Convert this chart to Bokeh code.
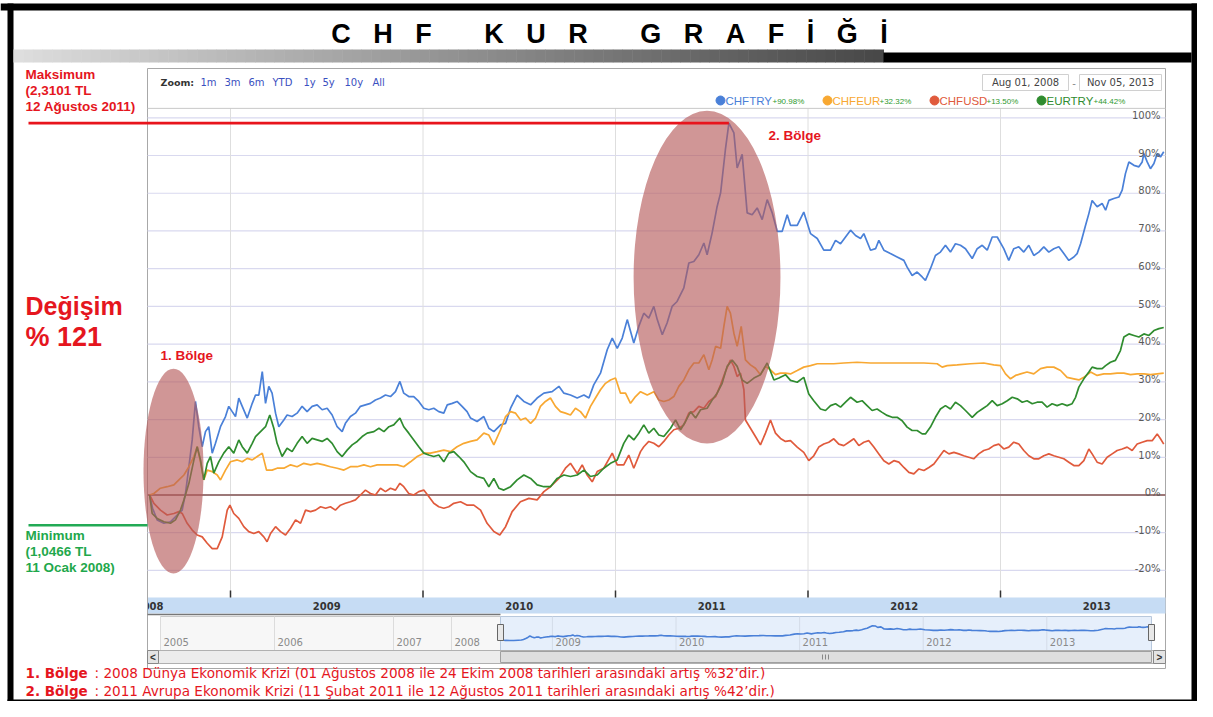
from bokeh.plotting import figure
from bokeh.models import Range1d, Label
from bokeh.core.properties import value
from bokeh.embed import file_html
from bokeh.resources import INLINE

# ---------------- data (decimal year, % change since 01 Aug 2008) ----------------
chftry = [
    (2008.580, 0.0), (2008.595, -3.5), (2008.619, -6.6), (2008.654, -7.5), (2008.688, -7.1),
    (2008.723, -5.3), (2008.749, -4.0), (2008.766, 0.4), (2008.784, 7.5), (2008.801, 14.6),
    (2008.818, 24.8), (2008.835, 18.1), (2008.853, 12.8), (2008.870, 16.8), (2008.887, 18.1),
    (2008.905, 11.1), (2008.922, 13.7), (2008.948, 18.1), (2008.974, 20.8), (2008.991, 23.5),
    (2009.009, 22.1), (2009.026, 20.8), (2009.043, 25.7), (2009.061, 23.5), (2009.087, 20.4),
    (2009.113, 24.3), (2009.130, 26.5), (2009.147, 26.5), (2009.165, 32.7), (2009.182, 24.3),
    (2009.199, 28.8), (2009.216, 27.0), (2009.234, 21.7), (2009.251, 18.1), (2009.277, 19.9),
    (2009.294, 21.2), (2009.320, 20.8), (2009.346, 21.7), (2009.372, 23.5), (2009.398, 22.1),
    (2009.424, 23.5), (2009.450, 23.9), (2009.476, 22.6), (2009.502, 23.0), (2009.528, 21.2),
    (2009.554, 18.1), (2009.580, 16.8), (2009.597, 19.0), (2009.623, 20.8), (2009.649, 21.7),
    (2009.675, 23.5), (2009.701, 23.9), (2009.727, 24.3), (2009.753, 25.2), (2009.779, 25.7),
    (2009.805, 26.5), (2009.831, 26.1), (2009.857, 27.4), (2009.880, 30.1), (2009.900, 27.0),
    (2009.926, 26.1), (2009.952, 26.1), (2009.978, 24.8), (2010.004, 23.0), (2010.030, 22.6),
    (2010.056, 23.0), (2010.082, 22.1), (2010.108, 21.7), (2010.126, 23.9), (2010.152, 24.3),
    (2010.177, 24.8), (2010.203, 23.5), (2010.229, 22.1), (2010.247, 20.4), (2010.281, 19.5),
    (2010.316, 20.8), (2010.342, 17.7), (2010.368, 16.8), (2010.403, 18.6), (2010.429, 19.0),
    (2010.455, 23.0), (2010.489, 26.5), (2010.524, 24.8), (2010.559, 23.9), (2010.593, 25.7),
    (2010.628, 27.0), (2010.671, 27.4), (2010.706, 28.8), (2010.732, 27.0), (2010.766, 26.5),
    (2010.801, 25.7), (2010.836, 26.5), (2010.862, 25.7), (2010.887, 29.2), (2010.922, 32.3),
    (2010.957, 38.5), (2010.983, 41.6), (2011.009, 38.9), (2011.035, 41.6), (2011.061, 46.5),
    (2011.095, 40.3), (2011.121, 44.7), (2011.147, 48.2), (2011.173, 46.9), (2011.199, 50.0),
    (2011.217, 46.5), (2011.243, 42.5), (2011.268, 45.6), (2011.294, 50.0), (2011.320, 51.3),
    (2011.355, 54.9), (2011.381, 61.5), (2011.407, 61.9), (2011.433, 63.7), (2011.459, 66.8),
    (2011.476, 63.7), (2011.502, 69.5), (2011.528, 76.5), (2011.546, 80.1), (2011.571, 91.6),
    (2011.589, 98.6), (2011.615, 96.0), (2011.632, 86.7), (2011.658, 90.3), (2011.684, 74.8),
    (2011.710, 74.3), (2011.736, 76.1), (2011.762, 73.0), (2011.788, 78.3), (2011.814, 74.8),
    (2011.840, 69.9), (2011.866, 69.9), (2011.892, 74.3), (2011.909, 71.5), (2011.944, 71.5),
    (2011.978, 75.0), (2012.013, 69.3), (2012.048, 68.0), (2012.082, 64.9), (2012.117, 64.9),
    (2012.143, 67.5), (2012.169, 66.6), (2012.195, 68.4), (2012.221, 70.2), (2012.247, 68.8),
    (2012.273, 68.0), (2012.290, 69.3), (2012.325, 64.9), (2012.351, 65.3), (2012.368, 67.5),
    (2012.394, 64.9), (2012.428, 64.0), (2012.463, 63.1), (2012.498, 62.2), (2012.515, 60.4),
    (2012.541, 58.2), (2012.567, 59.1), (2012.593, 57.8), (2012.610, 56.9), (2012.636, 60.0),
    (2012.662, 63.5), (2012.688, 64.4), (2012.714, 66.2), (2012.740, 64.4), (2012.766, 66.6),
    (2012.792, 66.2), (2012.818, 65.3), (2012.853, 62.7), (2012.879, 65.3), (2012.905, 66.2),
    (2012.931, 64.9), (2012.957, 68.4), (2012.983, 68.4), (2013.017, 65.3), (2013.043, 62.2),
    (2013.069, 65.3), (2013.095, 65.8), (2013.121, 64.4), (2013.147, 66.2), (2013.173, 63.5),
    (2013.199, 64.4), (2013.225, 65.8), (2013.251, 64.4), (2013.277, 65.3), (2013.303, 65.8),
    (2013.329, 64.0), (2013.355, 62.2), (2013.381, 63.1), (2013.398, 64.0), (2013.416, 66.6),
    (2013.442, 71.5), (2013.459, 74.6), (2013.476, 78.1), (2013.502, 76.4), (2013.528, 77.3),
    (2013.546, 75.5), (2013.563, 78.1), (2013.589, 78.6), (2013.615, 79.0), (2013.632, 80.8),
    (2013.649, 85.2), (2013.667, 88.3), (2013.693, 87.4), (2013.719, 87.0), (2013.736, 88.3),
    (2013.745, 90.5), (2013.762, 88.3), (2013.779, 86.5), (2013.797, 87.9), (2013.814, 90.5),
    (2013.831, 89.6), (2013.848, 91.0),
]

eurtry = [
    (2008.580, 0.0), (2008.593, -4.9), (2008.619, -6.2), (2008.654, -7.1), (2008.688, -7.5),
    (2008.714, -6.6), (2008.740, -4.0), (2008.758, -1.3), (2008.784, 3.1), (2008.810, 9.3),
    (2008.827, 12.8), (2008.844, 9.3), (2008.861, 4.0), (2008.879, 8.4), (2008.896, 10.2),
    (2008.913, 5.8), (2008.939, 8.8), (2008.965, 11.1), (2008.991, 12.8), (2009.017, 11.1),
    (2009.043, 14.6), (2009.061, 12.8), (2009.087, 11.1), (2009.113, 13.7), (2009.130, 15.5),
    (2009.156, 16.8), (2009.182, 18.1), (2009.204, 21.2), (2009.225, 17.7), (2009.242, 13.7),
    (2009.268, 10.2), (2009.294, 12.4), (2009.320, 11.5), (2009.346, 13.7), (2009.372, 15.5),
    (2009.398, 13.7), (2009.424, 15.0), (2009.450, 14.6), (2009.476, 14.2), (2009.502, 15.0),
    (2009.528, 13.7), (2009.554, 11.5), (2009.580, 10.2), (2009.606, 11.9), (2009.632, 13.3),
    (2009.658, 14.2), (2009.684, 15.5), (2009.710, 16.4), (2009.745, 16.8), (2009.771, 17.7),
    (2009.797, 16.8), (2009.823, 18.1), (2009.848, 18.6), (2009.880, 20.4), (2009.900, 18.1),
    (2009.926, 16.4), (2009.952, 14.6), (2009.978, 12.8), (2010.004, 11.1), (2010.030, 10.6),
    (2010.056, 10.2), (2010.082, 10.6), (2010.108, 8.8), (2010.134, 11.1), (2010.160, 11.5),
    (2010.186, 10.2), (2010.212, 8.8), (2010.247, 6.2), (2010.281, 4.9), (2010.316, 4.4),
    (2010.342, 2.2), (2010.368, 4.4), (2010.394, 1.8), (2010.420, 1.3), (2010.455, 2.2),
    (2010.489, 4.0), (2010.524, 5.3), (2010.559, 4.4), (2010.593, 2.7), (2010.628, 2.2),
    (2010.662, 2.2), (2010.697, 4.4), (2010.732, 5.3), (2010.766, 4.9), (2010.801, 5.3),
    (2010.836, 6.6), (2010.870, 4.9), (2010.905, 5.3), (2010.939, 7.1), (2010.974, 8.4),
    (2011.009, 9.3), (2011.043, 13.7), (2011.069, 15.9), (2011.095, 14.6), (2011.121, 16.4),
    (2011.147, 18.6), (2011.173, 16.4), (2011.199, 17.7), (2011.225, 15.9), (2011.251, 15.5),
    (2011.286, 17.7), (2011.312, 19.9), (2011.338, 17.3), (2011.364, 19.5), (2011.390, 22.1),
    (2011.416, 20.4), (2011.442, 22.6), (2011.476, 23.0), (2011.502, 25.2), (2011.528, 27.0),
    (2011.554, 29.6), (2011.580, 34.1), (2011.606, 35.8), (2011.632, 34.1), (2011.658, 30.5),
    (2011.684, 29.6), (2011.719, 31.0), (2011.753, 31.9), (2011.788, 35.0), (2011.823, 30.5),
    (2011.849, 31.0), (2011.883, 31.9), (2011.909, 30.4), (2011.944, 29.9), (2011.978, 31.2),
    (2012.004, 26.8), (2012.030, 25.0), (2012.065, 22.8), (2012.091, 22.4), (2012.117, 23.7),
    (2012.143, 24.2), (2012.169, 23.3), (2012.195, 24.6), (2012.221, 25.9), (2012.255, 24.6),
    (2012.281, 25.0), (2012.307, 23.7), (2012.333, 22.4), (2012.359, 22.8), (2012.385, 21.9),
    (2012.411, 21.1), (2012.437, 20.6), (2012.463, 20.6), (2012.489, 19.7), (2012.515, 18.0),
    (2012.541, 17.1), (2012.567, 17.1), (2012.593, 16.2), (2012.610, 16.2), (2012.636, 18.0),
    (2012.662, 20.6), (2012.688, 22.8), (2012.714, 23.7), (2012.740, 22.8), (2012.766, 24.6),
    (2012.792, 23.7), (2012.818, 22.4), (2012.853, 20.6), (2012.879, 21.9), (2012.905, 22.8),
    (2012.931, 23.7), (2012.957, 25.0), (2012.983, 23.7), (2013.009, 24.2), (2013.035, 25.0),
    (2013.061, 25.9), (2013.087, 25.5), (2013.113, 24.6), (2013.138, 25.0), (2013.165, 24.2),
    (2013.190, 24.6), (2013.216, 24.6), (2013.242, 23.3), (2013.268, 24.2), (2013.294, 23.7),
    (2013.320, 24.2), (2013.346, 23.7), (2013.372, 24.2), (2013.390, 25.9), (2013.407, 28.6),
    (2013.433, 30.8), (2013.459, 32.6), (2013.476, 33.9), (2013.502, 33.5), (2013.528, 33.5),
    (2013.546, 34.3), (2013.571, 35.2), (2013.597, 35.7), (2013.623, 38.3), (2013.641, 41.9),
    (2013.667, 42.7), (2013.693, 42.3), (2013.719, 41.9), (2013.745, 42.7), (2013.771, 42.3),
    (2013.797, 43.6), (2013.823, 44.1), (2013.848, 44.4),
]

chfeur = [
    (2008.580, 0.0), (2008.602, 0.4), (2008.636, 1.8), (2008.671, 2.2), (2008.706, 2.7),
    (2008.732, 4.0), (2008.758, 5.3), (2008.784, 7.5), (2008.810, 10.2), (2008.827, 12.8),
    (2008.844, 8.8), (2008.861, 4.0), (2008.879, 6.6), (2008.905, 6.2), (2008.931, 5.3),
    (2008.948, 4.0), (2008.974, 6.6), (2009.000, 8.8), (2009.035, 9.3), (2009.061, 8.8),
    (2009.087, 9.7), (2009.113, 9.3), (2009.139, 10.2), (2009.165, 11.1), (2009.187, 6.6),
    (2009.216, 6.6), (2009.242, 7.1), (2009.277, 7.1), (2009.312, 8.0), (2009.346, 7.5),
    (2009.381, 8.4), (2009.416, 8.0), (2009.450, 8.4), (2009.485, 8.0), (2009.519, 7.5),
    (2009.554, 7.1), (2009.589, 6.6), (2009.623, 7.5), (2009.658, 7.5), (2009.693, 8.0),
    (2009.727, 7.5), (2009.762, 8.0), (2009.797, 8.0), (2009.831, 8.0), (2009.866, 8.0),
    (2009.900, 7.5), (2009.935, 8.8), (2009.970, 10.2), (2010.004, 11.1), (2010.039, 11.1),
    (2010.074, 11.5), (2010.108, 11.9), (2010.143, 11.5), (2010.177, 12.8), (2010.212, 13.7),
    (2010.247, 14.2), (2010.281, 14.6), (2010.316, 16.4), (2010.342, 15.9), (2010.368, 13.3),
    (2010.403, 17.3), (2010.429, 20.8), (2010.455, 22.1), (2010.481, 21.7), (2010.507, 19.9),
    (2010.533, 20.4), (2010.559, 19.0), (2010.585, 20.4), (2010.610, 23.5), (2010.636, 24.8),
    (2010.662, 25.7), (2010.688, 23.5), (2010.714, 22.1), (2010.740, 21.7), (2010.766, 21.2),
    (2010.792, 23.0), (2010.818, 22.1), (2010.844, 20.4), (2010.870, 23.5), (2010.896, 25.7),
    (2010.922, 27.9), (2010.948, 29.6), (2010.974, 30.5), (2011.000, 31.0), (2011.026, 27.0),
    (2011.052, 27.0), (2011.078, 24.3), (2011.104, 26.1), (2011.130, 27.4), (2011.165, 26.5),
    (2011.199, 27.4), (2011.225, 25.2), (2011.251, 24.8), (2011.277, 25.2), (2011.303, 26.1),
    (2011.329, 28.8), (2011.355, 30.5), (2011.381, 33.2), (2011.407, 35.0), (2011.433, 35.0),
    (2011.459, 37.2), (2011.485, 33.2), (2011.502, 35.8), (2011.520, 39.4), (2011.546, 38.9),
    (2011.563, 44.7), (2011.580, 50.0), (2011.597, 48.2), (2011.615, 42.9), (2011.632, 39.4),
    (2011.653, 44.7), (2011.675, 35.8), (2011.701, 34.5), (2011.727, 33.6), (2011.753, 31.9),
    (2011.779, 34.1), (2011.805, 33.2), (2011.831, 31.9), (2011.857, 32.3), (2011.883, 32.3),
    (2011.909, 32.1), (2011.944, 33.0), (2011.978, 33.9), (2012.013, 34.3), (2012.048, 34.8),
    (2012.082, 34.8), (2012.134, 34.8), (2012.186, 35.0), (2012.255, 35.2), (2012.325, 35.0),
    (2012.394, 35.0), (2012.463, 35.0), (2012.532, 35.0), (2012.602, 35.0), (2012.671, 34.8),
    (2012.697, 33.9), (2012.723, 34.3), (2012.775, 34.5), (2012.844, 34.8), (2012.913, 35.0),
    (2012.965, 34.5), (2013.000, 34.3), (2013.026, 32.1), (2013.052, 30.8), (2013.078, 31.7),
    (2013.104, 32.1), (2013.138, 32.6), (2013.173, 32.1), (2013.208, 33.5), (2013.242, 33.9),
    (2013.277, 33.9), (2013.312, 33.0), (2013.346, 31.2), (2013.381, 30.8), (2013.407, 30.5),
    (2013.433, 31.2), (2013.468, 32.6), (2013.502, 31.7), (2013.537, 32.1), (2013.571, 32.1),
    (2013.606, 32.3), (2013.641, 32.3), (2013.675, 31.9), (2013.710, 32.1), (2013.745, 32.1),
    (2013.779, 31.9), (2013.814, 32.1), (2013.848, 32.3),
]

chfusd = [
    (2008.580, 0.0), (2008.602, -2.2), (2008.636, -4.0), (2008.671, -5.3), (2008.706, -4.9),
    (2008.732, -4.4), (2008.749, -4.9), (2008.775, -7.5), (2008.801, -9.3), (2008.827, -10.6),
    (2008.853, -11.1), (2008.879, -12.8), (2008.905, -14.2), (2008.931, -14.2), (2008.957, -11.1),
    (2008.983, -4.0), (2008.997, -2.7), (2009.017, -4.9), (2009.043, -6.2), (2009.069, -8.4),
    (2009.095, -9.7), (2009.121, -10.2), (2009.147, -9.7), (2009.173, -11.1), (2009.190, -12.4),
    (2009.208, -10.2), (2009.234, -8.4), (2009.260, -9.7), (2009.286, -10.6), (2009.312, -8.8),
    (2009.338, -6.6), (2009.364, -7.5), (2009.390, -4.0), (2009.416, -4.4), (2009.442, -4.0),
    (2009.468, -3.1), (2009.494, -3.5), (2009.519, -3.1), (2009.545, -4.0), (2009.571, -2.7),
    (2009.597, -2.2), (2009.623, -1.8), (2009.649, -1.3), (2009.675, 0.0), (2009.701, 1.3),
    (2009.727, 0.4), (2009.753, 0.0), (2009.779, 1.8), (2009.805, 0.9), (2009.831, 1.8),
    (2009.857, 1.3), (2009.880, 3.1), (2009.900, 2.2), (2009.926, 0.4), (2009.952, 0.0),
    (2009.978, 0.9), (2010.004, 1.3), (2010.030, -0.4), (2010.056, -2.2), (2010.082, -3.1),
    (2010.108, -3.5), (2010.134, -3.1), (2010.160, -2.2), (2010.195, -1.8), (2010.230, -2.7),
    (2010.264, -2.7), (2010.299, -4.0), (2010.333, -7.5), (2010.368, -9.7), (2010.399, -10.6),
    (2010.429, -8.4), (2010.463, -4.4), (2010.506, -1.8), (2010.550, -0.9), (2010.593, -1.3),
    (2010.628, 0.9), (2010.662, 2.2), (2010.706, 4.4), (2010.740, 7.1), (2010.766, 8.4),
    (2010.801, 5.7), (2010.827, 8.0), (2010.853, 5.3), (2010.879, 3.5), (2010.905, 6.2),
    (2010.939, 7.1), (2010.983, 11.1), (2011.009, 8.0), (2011.043, 8.0), (2011.069, 10.6),
    (2011.095, 7.1), (2011.130, 11.5), (2011.147, 12.8), (2011.173, 14.2), (2011.199, 13.7),
    (2011.225, 12.8), (2011.251, 14.2), (2011.277, 15.9), (2011.303, 17.3), (2011.329, 17.7),
    (2011.355, 18.6), (2011.381, 21.7), (2011.407, 22.1), (2011.433, 23.5), (2011.459, 23.0),
    (2011.485, 24.8), (2011.520, 26.1), (2011.546, 29.2), (2011.571, 32.7), (2011.597, 35.8),
    (2011.615, 34.1), (2011.632, 31.4), (2011.649, 32.3), (2011.667, 27.9), (2011.675, 19.9),
    (2011.701, 17.7), (2011.727, 15.5), (2011.753, 13.3), (2011.779, 16.4), (2011.805, 19.9),
    (2011.831, 16.4), (2011.857, 15.0), (2011.883, 14.2), (2011.909, 14.4), (2011.944, 12.7),
    (2011.978, 11.3), (2012.004, 9.1), (2012.030, 10.4), (2012.056, 12.7), (2012.082, 13.5),
    (2012.108, 14.0), (2012.134, 14.9), (2012.160, 13.5), (2012.186, 13.1), (2012.212, 14.0),
    (2012.238, 14.9), (2012.264, 13.1), (2012.290, 14.0), (2012.316, 14.4), (2012.342, 12.7),
    (2012.368, 10.9), (2012.394, 9.1), (2012.420, 8.2), (2012.446, 9.1), (2012.472, 8.7),
    (2012.498, 7.3), (2012.524, 6.0), (2012.550, 5.6), (2012.576, 6.9), (2012.602, 6.5),
    (2012.628, 7.3), (2012.654, 8.2), (2012.680, 10.0), (2012.706, 11.8), (2012.732, 10.9),
    (2012.758, 11.3), (2012.783, 10.9), (2012.809, 10.4), (2012.835, 10.0), (2012.861, 9.6),
    (2012.887, 10.9), (2012.913, 11.8), (2012.939, 12.2), (2012.965, 13.1), (2012.991, 13.5),
    (2013.017, 12.2), (2013.043, 12.7), (2013.069, 14.0), (2013.095, 13.5), (2013.121, 11.8),
    (2013.147, 10.4), (2013.173, 9.6), (2013.199, 9.6), (2013.225, 10.4), (2013.251, 10.9),
    (2013.277, 10.4), (2013.303, 10.0), (2013.329, 9.6), (2013.355, 8.7), (2013.381, 7.8),
    (2013.407, 7.8), (2013.433, 9.1), (2013.459, 12.2), (2013.476, 10.9), (2013.502, 8.7),
    (2013.528, 8.2), (2013.554, 10.0), (2013.580, 10.9), (2013.606, 11.8), (2013.632, 12.2),
    (2013.658, 12.7), (2013.684, 11.8), (2013.710, 13.5), (2013.736, 14.0), (2013.762, 14.4),
    (2013.788, 14.4), (2013.814, 16.2), (2013.831, 14.9), (2013.848, 13.5),
]

series_names = ["CHFTRY", "CHFEUR", "CHFUSD", "EURTRY"]
series_changes = ["+90.98%", "+32.32%", "+13.50%", "+44.42%"]
series_colors = ["#4a80d8", "#f8a832", "#e05a3c", "#2f8c2f"]

y_ticks = [-20, -10, 0, 10, 20, 30, 40, 50, 60, 70, 80, 90, 100]
year_ticks = [2009, 2010, 2011, 2012, 2013]
year_labels = ["2009", "2010", "2011", "2012", "2013"]
view_start, view_end = 2008.569, 2013.857
plot_low, plot_high = -27.2, 102.5

NB = "\u00a0"
title_words = [["C", "H", "F"], ["K", "U", "R"], ["G", "R", "A", "F", "İ", "Ğ", "İ"]]
max_lines = ["Maksimum", "(2,3101 TL", "12 Ağustos 2011)"]
min_lines = ["Minimum", "(1,0466 TL", "11 Ocak 2008)"]
min_level = -8.0
change_lines = ["Değişim", "% 121"]
region_names = ["1. Bölge", "2. Bölge"]
region_x = [(2008.548, 2008.860), (2011.094, 2011.857)]
region_y = [(-20.8, 33.5), (13.6, 101.9)]
notes = [
    ": 2008 Dünya  Ekonomik Krizi (01 Ağustos 2008 ile 24 Ekim 2008 tarihleri arasındaki artış %32’dir.)",
    ": 2011 Avrupa Ekonomik Krizi (11 Şubat 2011 ile 12 Ağustos 2011 tarihleri arasındaki artış %42’dir.)",
]
zoom_buttons = ["1m", "3m", "6m", "YTD", "1y", "5y", "10y", "All"]
date_from, date_to = "Aug 01, 2008", "Nov 05, 2013"
nav_old_years = ["2005", "2006", "2007", "2008"]

# ---------------- layout helpers (image pixel -> data) ----------------
W, H, OFF = 1197, 701, 0
PX_PER_YEAR = 192.5
PX_PER_PCT = 3.772
X0 = 2009 - (230 - OFF) / PX_PER_YEAR
X1 = X0 + W / PX_PER_YEAR
Y1 = (494.5 - OFF) / PX_PER_PCT
Y0 = Y1 - H / PX_PER_PCT


def fx(x):
    return X0 + (x - OFF) * (X1 - X0) / W


def fy(y):
    return Y1 - (y - OFF) * (Y1 - Y0) / H


p = figure(width=W, height=H, x_range=Range1d(X0, X1), y_range=Range1d(Y0, Y1),
           x_axis_type=None, y_axis_type=None, toolbar_location=None,
           output_backend="svg", min_border=0, outline_line_color=None,
           background_fill_color="white", border_fill_color="white")

# navigator scales
NAV_PX_PER_YEAR = 123.6
NX0 = 2008.58 - (500 - OFF) / NAV_PX_PER_YEAR
NX1 = NX0 + W / NAV_PX_PER_YEAR
NAV_PCT_PER_PX = 1 / 0.14
NY1 = (639 - OFF) * NAV_PCT_PER_PX
NY0 = -(OFF + H - 639) * NAV_PCT_PER_PX
p.extra_x_ranges = {"nav": Range1d(NX0, NX1)}
p.extra_y_ranges = {"navy": Range1d(NY0, NY1)}


def box(l, t, r, b, fill, line=None, lw=1, alpha=1.0):
    p.quad(left=[fx(l)], right=[fx(r)], top=[fy(t)], bottom=[fy(b)],
           fill_color=fill, fill_alpha=alpha, line_color=line, line_width=lw)


def label(x, y, s, size, color, bold=False, font="Liberation Sans", align="left",
          baseline="middle"):
    p.add_layout(Label(x=fx(x), y=fy(y), text=s, text_font=font, text_font_size=f"{size}px",
                       text_color=color, text_font_style="bold" if bold else "normal",
                       text_align=align, text_baseline=baseline))


RED = "#e5161e"
GREEN = "#1fa84c"

# ---------------- outer frame ----------------
box(0, 3, 1197, 10, "black")
box(7, 3, 13, 701, "black")
box(1191, 3, 1197, 701, "black")
box(7, 699, 1197, 701, "black")
n_grad = 90
gx0, gx1 = 13, 883
for i in range(n_grad):
    t = i / (n_grad - 1)
    c = int(222 - t * 150)
    box(gx0 + (gx1 - gx0) * i / n_grad, 49, gx0 + (gx1 - gx0) * (i + 1) / n_grad + 0.5, 62,
        f"#{c:02x}{c:02x}{c:02x}")
box(883, 52, 1191, 62, "black")

# ---------------- chart container ----------------
box(147, 68, 1165, 668, "white", line="#a8a8a8")

# grids
p.segment(x0=[view_start] * len(y_ticks), x1=[view_end] * len(y_ticks), y0=y_ticks, y1=y_ticks,
          line_color="#d9d9ef", line_width=1.2)
p.segment(x0=year_ticks, x1=year_ticks, y0=[plot_low] * 5, y1=[plot_high] * 5,
          line_color="#dedede", line_width=1)
p.segment(x0=[view_start], x1=[view_end], y0=[plot_high], y1=[plot_high], line_color="#c8c8c8")
p.segment(x0=[view_start], x1=[view_end], y0=[0], y1=[0], line_color="#9c7878", line_width=2)

# series
all_series = [chftry, chfeur, chfusd, eurtry]
for data, col in zip(all_series, series_colors):
    xs, ys = zip(*data)
    p.line(list(xs), list(ys), line_color=col, line_width=1.7)

# y labels
for t in y_ticks:
    p.text(x=[fx(1160)], y=[t + 0.6], text=[f"{t}%"], text_font=value("DejaVu Sans"),
           text_font_size="10px", text_color="#5a5a5a", text_align="right",
           text_baseline="alphabetic")

# crisis regions
for (xa, xb), (ya, yb) in zip(region_x, region_y):
    p.ellipse(x=[(xa + xb) / 2], y=[(ya + yb) / 2], width=[xb - xa], height=[yb - ya],
              fill_color="#b65a5a", fill_alpha=0.64, line_color=None)

# max / min markers
peak_i = max(range(len(chftry)), key=lambda i: chftry[i][1])
peak_x, peak_y = chftry[peak_i]
p.line([fx(28), peak_x], [peak_y, peak_y], line_color="#e8141c", line_width=2.6)
p.line([fx(28), view_start], [min_level, min_level], line_color="#22aa55", line_width=2.6)

# x band
box(147, 597, 1165, 613, "#c6dcf4")
p.segment(x0=year_ticks, x1=year_ticks, y0=[fy(590)] * 5, y1=[fy(597)] * 5,
          line_color="#333333", line_width=1.5)
for yr, lab in zip(year_ticks, year_labels):
    p.text(x=[yr + 0.5], y=[fy(605)], text=[lab], text_font=value("DejaVu Sans"),
           text_font_size="10px", text_font_style="bold", text_color="#333333",
           text_align="center", text_baseline="middle")
p.text(x=[fx(163)], y=[fy(605)], text=["2008"], text_font=value("DejaVu Sans"),
       text_font_size="10px", text_font_style="bold", text_color="#333333",
       text_align="right", text_baseline="middle")
box(100, 596, 146.5, 614, "white")
p.line([fx(147), fx(147)], [fy(596), fy(614)], line_color="#a8a8a8")
p.line([fx(147), fx(500)], [fy(614), fy(614)], line_color="#777777", line_width=1.5)

# navigator
nav_old_px = [160, 274, 393, 451]
box(160, 616, 500, 650, "#f7f7f7", line="#c8c8c8")
box(500, 616, 1151, 650, "#e6effb", line="#b8c8dc")
for xpx, lab in zip(nav_old_px, nav_old_years):
    p.line([fx(xpx), fx(xpx)], [fy(616), fy(650)], line_color="#dcdcdc")
    label(xpx + 3, 641, lab, 10, "#8a8a8a", font="DejaVu Sans")
for yr, lab in zip(year_ticks, year_labels):
    p.segment(x0=[yr], x1=[yr], y0=[-(650 - 639) * NAV_PCT_PER_PX], y1=[(639 - 616) * NAV_PCT_PER_PX],
              x_range_name="nav", y_range_name="navy", line_color="#d4dce8")
    p.text(x=[yr], y=[-(641 - 639) * NAV_PCT_PER_PX], text=[lab], x_range_name="nav",
           y_range_name="navy", text_font=value("DejaVu Sans"), text_font_size="10px",
           text_color="#8a8a8a", text_align="left", text_baseline="middle", x_offset=3)
nav_x, nav_y = zip(*chftry)
p.line(list(nav_x), list(nav_y), x_range_name="nav", y_range_name="navy",
       line_color="#4a80d8", line_width=1.6)
for hx in (500, 1151):
    box(hx - 3, 624, hx + 3, 640, "#e8e8e8", line="#666666")

# scrollbar
box(147, 650, 1165, 663, "#ececec", line="#b0b0b0")
box(500, 651, 1151, 662, "#dedede", line="#a0a0a0")
for gx in (822, 825, 828):
    p.line([fx(gx), fx(gx)], [fy(654), fy(659)], line_color="#888888")
box(147, 650, 158, 663, "#e4e4e4", line="#888888")
box(1153, 650, 1165, 663, "#e4e4e4", line="#888888")
label(152.5, 657, "<", 10, "#333333", bold=True, align="center")
label(1159, 657, ">", 10, "#333333", bold=True, align="center")

# zoom row and date range
label(160, 82, "Zoom:", 9.5, "#333333", bold=True, font="DejaVu Sans")
for xpx, b in zip([200, 224, 248, 272, 303, 322, 344, 372], zoom_buttons):
    label(xpx, 82, b, 10, "#3a4fc0", font="DejaVu Sans")
box(982, 74, 1068, 90, "white", line="#d0d0d0")
box(1079, 74, 1161, 90, "white", line="#d0d0d0")
label(1025, 82, date_from, 10, "#444444", font="DejaVu Sans", align="center")
label(1073.5, 82, "-", 10, "#888888", font="DejaVu Sans", align="center")
label(1120, 82, date_to, 10, "#444444", font="DejaVu Sans", align="center")

# legend
leg_px = [720, 827, 934, 1041]
for xpx, name, chg, col in zip(leg_px, series_names, series_changes, series_colors):
    p.scatter(x=[fx(xpx)], y=[fy(100)], size=9, fill_color=col, line_color=col)
    label(xpx + 5, 100, name, 11.5, col, font="Liberation Sans")
    label(xpx + 52, 101, chg, 8, "#2f9a2f", font="Liberation Sans")

# ---------------- text annotations ----------------
title_text = (NB * 7).join((NB * 3).join(w) for w in title_words)
label(609, 33, title_text, 27, "black", bold=True, font="Liberation Sans", align="center",
      baseline="middle")
for i, s in enumerate(max_lines):
    label(25, 74 + 16 * i, s, 13.5, RED, bold=True)
for i, s in enumerate(min_lines):
    label(25, 535 + 16 * i, s, 13.5, GREEN, bold=True)
label(25, 305, change_lines[0], 25, RED, bold=True)
label(25, 336, change_lines[1], 27, RED, bold=True)
label(160, 355, region_names[0], 13.5, RED, bold=True)
label(768, 135, region_names[1], 13.5, RED, bold=True)
for i, (rn, note) in enumerate(zip(region_names, notes)):
    label(25, 672 + 18.5 * i, rn, 13.5, RED, bold=True, font="DejaVu Sans")
    label(94, 672 + 18.5 * i, note, 13.6, RED, font="DejaVu Sans")

open("out.html", "w").write(file_html(p, INLINE))
